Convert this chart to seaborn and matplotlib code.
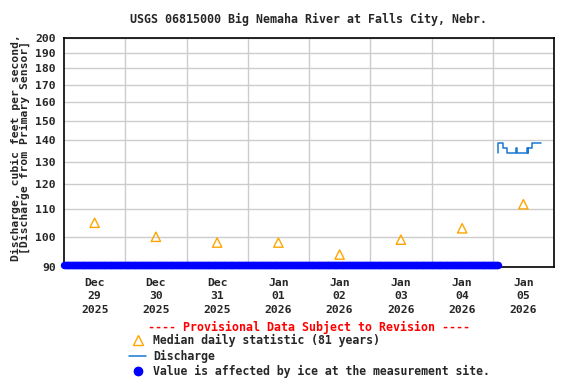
import pandas as pd
import matplotlib
matplotlib.use("Agg")
import matplotlib.pyplot as plt
from matplotlib.lines import Line2D
from matplotlib.ticker import NullLocator
import seaborn as sns

# Median daily statistic (81 years), plotted at noon of each day
median_days = ['2025-12-29', '2025-12-30', '2025-12-31', '2026-01-01',
               '2026-01-02', '2026-01-03', '2026-01-04', '2026-01-05']
median_values = [105, 100, 98, 98, 94, 99, 103, 112]

# Discharge (15-min readings after ice cleared), change points only
discharge_times = ['2026-01-05 02:00', '2026-01-05 02:15', '2026-01-05 04:00',
                   '2026-01-05 05:30', '2026-01-05 09:15', '2026-01-05 09:30',
                   '2026-01-05 13:30', '2026-01-05 13:45', '2026-01-05 14:00',
                   '2026-01-05 15:15', '2026-01-05 18:45']
discharge_values = [134, 138.5, 136.5, 134, 136.5, 134,
                    136.5, 134, 136.5, 138.5, 138.5]

# Ice-affected period (values shown on the bottom axis)
ice_start = '2025-12-29 00:00'
ice_end = '2026-01-05 02:00'
ice_level = 90.5

tick_labels = ['Dec\n29\n2025', 'Dec\n30\n2025', 'Dec\n31\n2025', 'Jan\n01\n2026',
               'Jan\n02\n2026', 'Jan\n03\n2026', 'Jan\n04\n2026', 'Jan\n05\n2026']
y_ticks = [90, 100, 110, 120, 130, 140, 150, 160, 170, 180, 190, 200]

title = 'USGS 06815000 Big Nemaha River at Falls City, Nebr.'
ylabel = 'Discharge, cubic feet per second,\n[Discharge from Primary Sensor]'

ORANGE = '#FFA500'
LINE_BLUE = '#1a78d2'
ICE_BLUE = '#0000FF'


def main():
    sns.set_style('white')
    plt.rcParams['font.family'] = ['DejaVu Sans Mono']
    plt.rcParams['font.weight'] = 'bold'
    plt.rcParams['font.size'] = 8

    fig = plt.figure(figsize=(5.76, 3.84), dpi=100)
    ax = fig.add_axes([64 / 576, 1 - 267 / 384, 490 / 576, 229 / 384])

    medians = pd.DataFrame({
        'time': pd.to_datetime(median_days) + pd.Timedelta(hours=12),
        'value': median_values,
    })
    discharge = pd.DataFrame({
        'time': pd.to_datetime(discharge_times),
        'value': discharge_values,
    })
    ice_times = pd.date_range(ice_start, ice_end, freq='15min')
    ice = pd.DataFrame({'time': ice_times, 'value': [ice_level] * len(ice_times)})

    ax.set_yscale('log')

    # gridlines at midnight and at each labelled value
    days = pd.to_datetime(median_days)
    ax.set_xticks(days[1:], minor=True)
    ax.grid(which='minor', axis='x', color='#cccccc', lw=1)
    ax.grid(which='major', axis='y', color='#cccccc', lw=1)
    ax.set_axisbelow(True)

    sns.scatterplot(data=medians, x='time', y='value', marker='^', s=45,
                    color=ORANGE, ax=ax, zorder=3)
    tri = ax.collections[-1]
    tri.set_facecolor('none')
    tri.set_edgecolor(ORANGE)
    tri.set_linewidth(1)

    sns.lineplot(data=discharge, x='time', y='value', color=LINE_BLUE, lw=1.1,
                 drawstyle='steps-post', ax=ax, zorder=3)

    sns.scatterplot(data=ice, x='time', y='value', s=28, color=ICE_BLUE,
                    linewidth=0, ax=ax, zorder=4, clip_on=False)

    ax.set_xlim(pd.Timestamp('2025-12-29'), pd.Timestamp('2026-01-06'))
    ax.set_ylim(90, 200)
    ax.set_yticks(y_ticks)
    ax.set_yticklabels([str(v) for v in y_ticks], fontweight='bold')
    ax.yaxis.set_minor_locator(NullLocator())
    ax.set_xticks(medians['time'])
    ax.set_xticklabels(tick_labels, linespacing=1.4, fontweight='bold')
    ax.tick_params(axis='both', which='both', length=0, labelsize=8.2)
    ax.tick_params(axis='y', pad=6)
    ax.tick_params(axis='x', pad=8)
    ax.set_xlabel('')
    ax.set_ylabel(ylabel, fontsize=8.2, fontweight='bold', linespacing=0.85)
    ax.yaxis.set_label_coords(-0.07, 0.52)

    for side in ax.spines.values():
        side.set_color('black')
        side.set_linewidth(1.2)

    fig.text(309 / 576, 1 - 19 / 384, title, ha='center', va='center',
             fontsize=8.4, fontweight='bold')
    fig.text(309 / 576, 1 - 327 / 384, '---- Provisional Data Subject to Revision ----',
             ha='center', va='center', fontsize=8.35, fontweight='bold', color='red')

    handles = [
        Line2D([], [], ls='none', marker='^', mfc='none', mec=ORANGE, ms=7, mew=1),
        Line2D([], [], color=LINE_BLUE, lw=1.1),
        Line2D([], [], ls='none', marker='o', color=ICE_BLUE, ms=6),
    ]
    labels = ['Median daily statistic (81 years)', 'Discharge',
              'Value is affected by ice at the measurement site.']
    leg = fig.legend(handles, labels, loc='upper left',
                     bbox_to_anchor=(129 / 576, 1 - 334 / 384),
                     frameon=False, fontsize=8.3, handlelength=1.5, handletextpad=0.6,
                     labelspacing=0.22, borderpad=0, borderaxespad=0)
    for t in leg.get_texts():
        t.set_fontweight('bold')

    fig.savefig('out.png', dpi=100)


if __name__ == '__main__':
    main()
